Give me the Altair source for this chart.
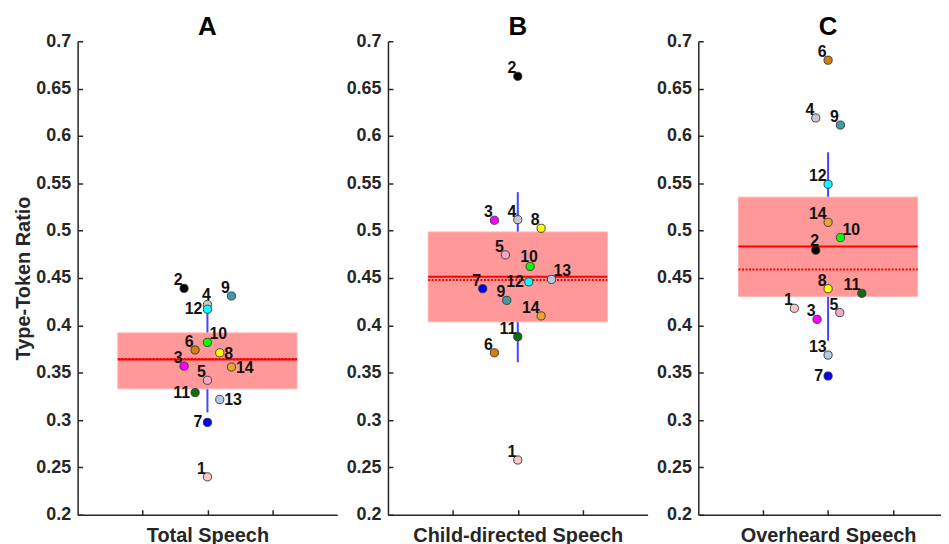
import altair as alt
import pandas as pd

# ---------------- data ----------------
panels = ["A", "B", "C"]
xlabels = ["Total Speech", "Child-directed Speech", "Overheard Speech"]
subjects = [str(i) for i in range(1, 15)]
colors = ["#FBC6C6", "#000000", "#FF00FF", "#C9C9C9", "#F6A9C6", "#D47F0E",
          "#0000FF", "#FFFF00", "#3F9CA5", "#00FF00", "#0B6E12", "#00FFFF",
          "#B2CBE8", "#E9A62E"]

ttr_A = [0.240, 0.439, 0.357, 0.422, 0.342, 0.374, 0.2975, 0.371, 0.431, 0.382,
         0.329, 0.417, 0.3217, 0.356]
jit_A = [0, -0.36, -0.36, 0, 0, -0.19, 0, 0.19, 0.37, 0, -0.19, 0, 0.19, 0.37]
lab_A = ["ul", "ul", "ul", "u", "ul", "ul", "l", "r", "ul", "ur", "l", "l", "r", "r"]

ttr_B = [0.2578, 0.663, 0.511, 0.5116, 0.4744, 0.371, 0.4387, 0.5025, 0.4264,
         0.4622, 0.388, 0.446, 0.4485, 0.410]
jit_B = [0, 0, -0.36, 0, -0.19, -0.36, -0.54, 0.36, -0.17, 0.19, 0, 0.17, 0.52, 0.36]
lab_B = ["ul", "ul", "ul", "ul", "ul", "ul", "ul", "ul", "ul", "u", "ul", "l", "ur", "ul"]

ttr_C = [0.418, 0.4794, 0.4064, 0.619, 0.4135, 0.680, 0.3465, 0.4387, 0.6115,
         0.4927, 0.4338, 0.549, 0.3686, 0.5088]
jit_C = [-0.52, -0.19, -0.17, -0.19, 0.18, 0, 0, 0, 0.19, 0.19, 0.52, 0, 0, 0]
lab_C = ["ul", "u", "ul", "ul", "ul", "ul", "l", "ul", "ul", "ur", "ul", "ul", "ul", "ul"]

box_lo = [0.333, 0.4037, 0.4306]
box_hi = [0.392, 0.4986, 0.5354]
means = [0.364, 0.4513, 0.4832]
medians = [0.3645, 0.4478, 0.459]
whisk_lo = [0.308, 0.361, 0.3837]
whisk_hi = [0.418, 0.5407, 0.5828]

yticks = [0.2, 0.25, 0.3, 0.35, 0.4, 0.45, 0.5, 0.55, 0.6, 0.65, 0.7]
xticks = [1, 2, 3]

# ---------------- tables ----------------
rows = []
for p, ttr, jit, lab in zip(panels, [ttr_A, ttr_B, ttr_C], [jit_A, jit_B, jit_C],
                            [lab_A, lab_B, lab_C]):
    for s, v, j, l in zip(subjects, ttr, jit, lab):
        rows.append({"panel": p, "sid": s, "ttr": v, "xpos": 2 + j, "place": l})
pts = pd.DataFrame(rows)

stats = pd.DataFrame({"panel": panels, "lo": box_lo, "hi": box_hi, "mean": means,
                      "median": medians, "wlo": whisk_lo, "whi": whisk_hi})
stats["xc"] = 2.0
stats["bx1"] = 0.62
stats["bx2"] = 3.38

FONT = "Liberation Sans"
AX = "#262626"
yscale = alt.Scale(domain=[0.2, 0.7], nice=False, zero=False)

placements = {
    "ul": dict(align="right", baseline="alphabetic", dx=-1.5, dy=-3),
    "u": dict(align="center", baseline="alphabetic", dx=-1, dy=-4.5),
    "l": dict(align="right", baseline="middle", dx=-5, dy=0),
    "r": dict(align="left", baseline="middle", dx=4.5, dy=1),
    "ur": dict(align="left", baseline="alphabetic", dx=2, dy=-3),
}

PX_PER_UNIT = 65.25
widths = [261, 261, 244]
xmax = [4, 4, 3.74]


def panel(i):
    p = panels[i]
    sdata = stats[stats.panel == p]
    pdata = pts[pts.panel == p]
    xscale = alt.Scale(domain=[0, xmax[i]], nice=False, zero=False)

    tick_x = alt.Axis(values=xticks, labels=False, domain=False, tickSize=5,
                      offset=-5, orient="bottom", grid=False)
    tick_y = alt.Axis(values=yticks, labels=False, domain=False, tickSize=5,
                      offset=-5, orient="left", grid=False)
    main_x = alt.Axis(labels=False, ticks=False, domain=True, orient="bottom",
                      grid=False, titlePadding=11, titleX=2 * PX_PER_UNIT)
    main_y = alt.Axis(values=yticks, format="~g", ticks=False, domain=True,
                      orient="left", grid=False, labelPadding=7, titlePadding=2)

    whisker = alt.Chart(sdata).mark_rule(color="#4545FF", strokeWidth=2).encode(
        x=alt.X("xc:Q", scale=xscale, axis=tick_x, title=None),
        y=alt.Y("wlo:Q", scale=yscale, axis=tick_y, title=None),
        y2="whi:Q",
    )
    box = alt.Chart(sdata).mark_rect(color="#FF9999", stroke="#FFB0B0",
                                     strokeWidth=1).encode(
        x=alt.X("bx1:Q", scale=xscale, axis=main_x, title=xlabels[i]),
        x2="bx2:Q",
        y=alt.Y("lo:Q", scale=yscale, axis=main_y,
                title="Type-Token Ratio" if i == 0 else None),
        y2="hi:Q",
    )
    mean_line = alt.Chart(sdata).mark_rule(color="#FF0000", strokeWidth=2).encode(
        x=alt.X("bx1:Q", scale=xscale, axis=None),
        x2="bx2:Q",
        y=alt.Y("mean:Q", scale=yscale, axis=None),
    )
    median_line = alt.Chart(sdata).mark_rule(color="#FF0000", strokeWidth=2,
                                              strokeDash=[2, 1.5]).encode(
        x=alt.X("bx1:Q", scale=xscale, axis=None),
        x2="bx2:Q",
        y=alt.Y("median:Q", scale=yscale, axis=None),
    )
    dots = alt.Chart(pdata).mark_circle(size=68, opacity=1, stroke="#333333",
                                        strokeWidth=0.9).encode(
        x=alt.X("xpos:Q", scale=xscale, axis=None),
        y=alt.Y("ttr:Q", scale=yscale, axis=None),
        color=alt.Color("sid:N", scale=alt.Scale(domain=subjects, range=colors),
                        legend=None),
    )
    layers = [whisker, box, mean_line, median_line, dots]
    for code, opts in placements.items():
        sub = pdata[pdata.place == code]
        if len(sub) == 0:
            continue
        layers.append(
            alt.Chart(sub).mark_text(font=FONT, fontSize=16, fontWeight="bold",
                                     color="#111111", **opts).encode(
                x=alt.X("xpos:Q", scale=xscale, axis=None),
                y=alt.Y("ttr:Q", scale=yscale, axis=None),
                text="sid:N",
            )
        )
    return alt.layer(*layers).resolve_axis(x="independent", y="independent").properties(
        width=widths[i], height=476,
        title=alt.TitleParams(p, font=FONT, fontSize=26, fontWeight="bold",
                              color="black", anchor="middle", frame="group",
                              dx=2 * PX_PER_UNIT - widths[i] / 2, offset=-8),
    )


chart = alt.hconcat(panel(0), panel(1), panel(2), spacing=8).configure_view(
    stroke=None
).configure_axis(
    labelFont=FONT, labelFontSize=18, labelFontWeight="bold", labelColor=AX,
    titleFont=FONT, titleFontSize=20, titleFontWeight="bold", titleColor=AX,
    domainColor=AX, domainWidth=1.5, tickColor=AX, tickWidth=1.5,
).properties(background="white", padding={"left": 5, "top": 5, "right": 0, "bottom": 0})

chart.save("out.html", embed_options={"renderer": "svg", "actions": False})
